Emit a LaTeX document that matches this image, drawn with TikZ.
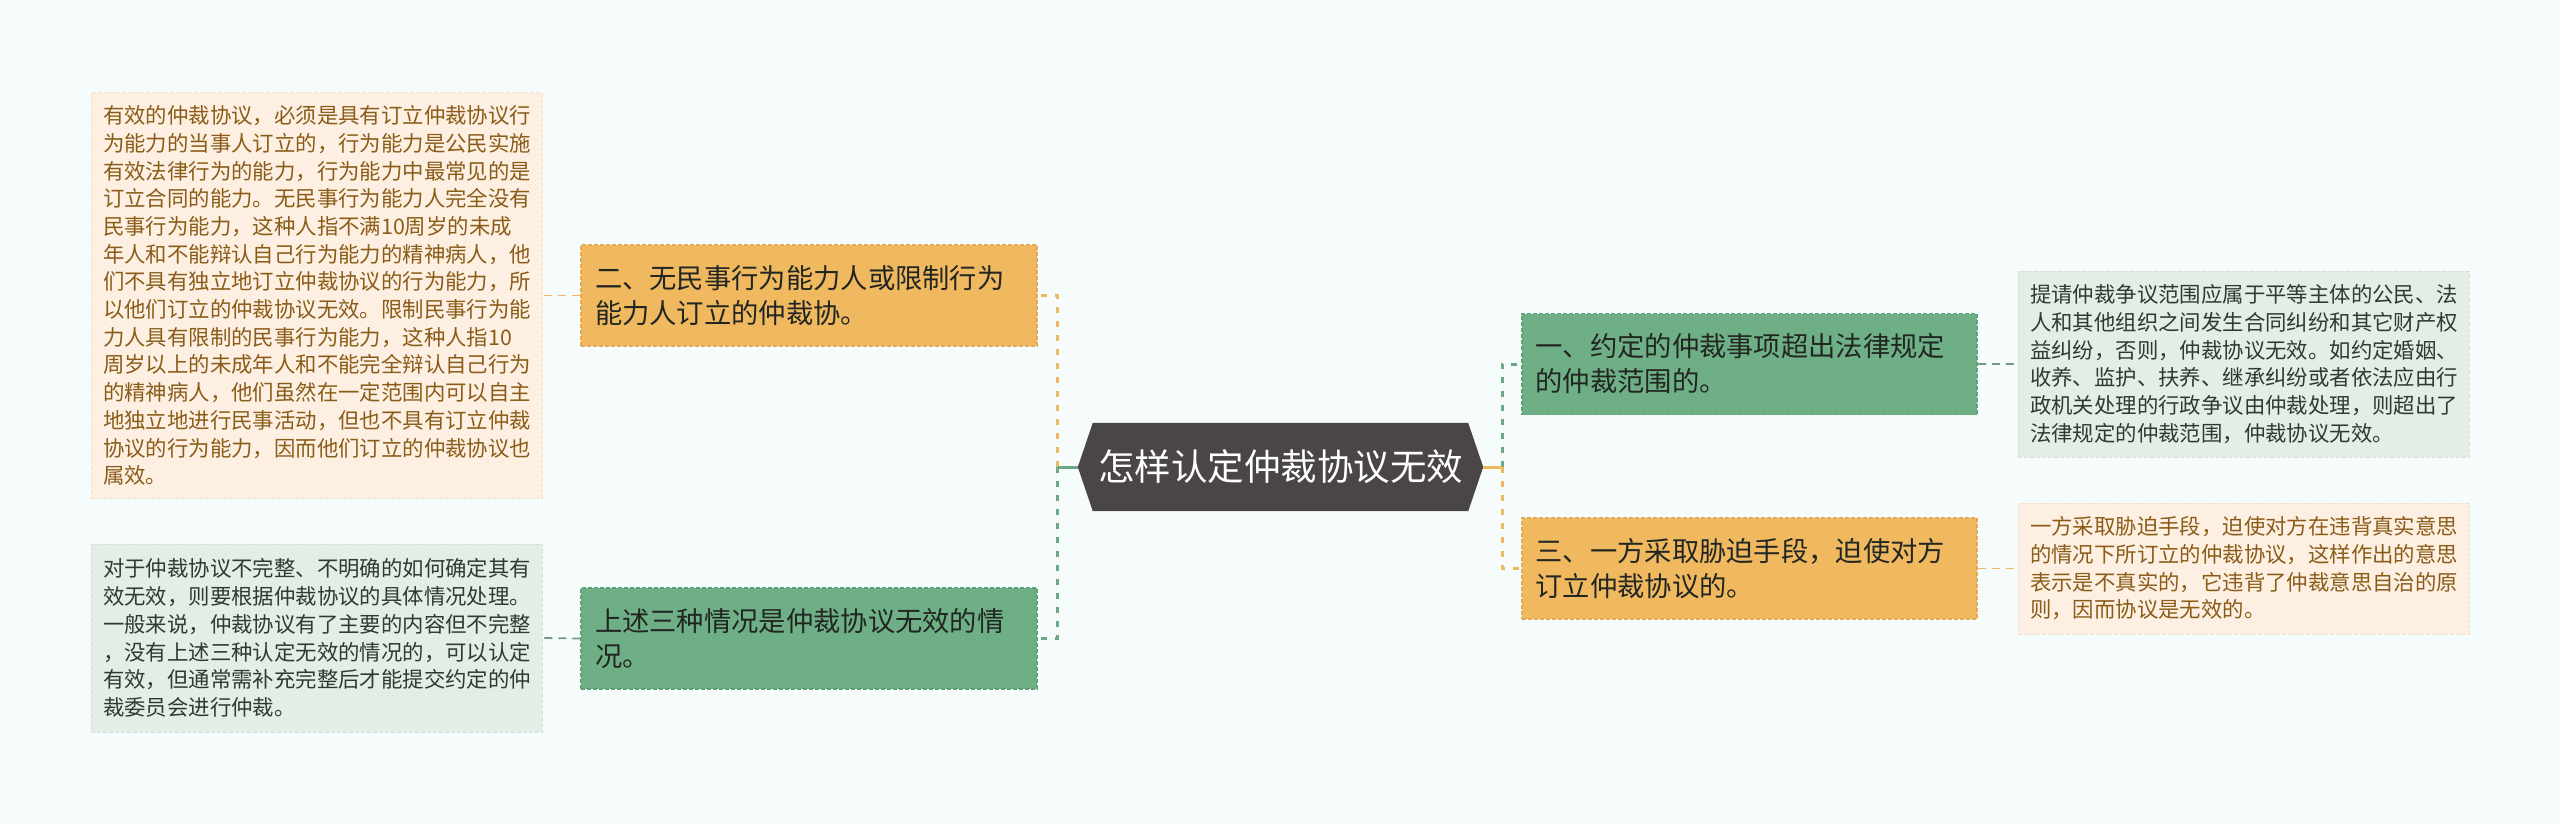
\documentclass[tikz,border=0pt]{standalone}
\usepackage{fontspec}
\setmainfont{Noto Sans CJK SC}
\usetikzlibrary{calc}
\definecolor{bgc}{HTML}{F6FCFC}
\definecolor{orfill}{HTML}{F0B95F}
\definecolor{ordraw}{HTML}{E2AA52}
\definecolor{grfill}{HTML}{6FAF86}
\definecolor{grdraw}{HTML}{62A279}
\definecolor{ctfill}{HTML}{4A4546}
\definecolor{ltor}{HTML}{FDF0E2}
\definecolor{ltordraw}{HTML}{F3E0CA}
\definecolor{ltgr}{HTML}{E4EEE7}
\definecolor{ltgrdraw}{HTML}{D2E0D6}
\definecolor{ortext}{HTML}{8A5C18}
\definecolor{grtext}{HTML}{2E3A32}
\definecolor{boxtext}{HTML}{222622}
\definecolor{orline}{HTML}{EDB85E}
\definecolor{grline}{HTML}{6BA883}
\begin{document}
\begin{tikzpicture}[x=1pt,y=-1pt,
  mainbox/.style={inner sep=0pt, minimum width=456pt, minimum height=101pt,
    text width=428pt, align=left, text=boxtext,
    font=\fontsize{27.3}{35}\selectfont, line width=1.5pt, dash pattern=on 4pt off 2pt},
  orbox/.style={mainbox, fill=orfill, draw=ordraw},
  grbox/.style={mainbox, fill=grfill, draw=grdraw},
  txtbox/.style={inner sep=0pt, minimum width=451pt, text width=427pt, align=left,
    font=\fontsize{21.4}{27.7}\selectfont, line width=1pt, dash pattern=on 4pt off 2pt},
  ortxt/.style={txtbox, fill=ltor, draw=ltordraw, text=ortext},
  grtxt/.style={txtbox, fill=ltgr, draw=ltgrdraw, text=grtext},
  trunk/.style={line width=3pt, dash pattern=on 6pt off 8pt},
  stub/.style={line width=3pt},
  leaf/.style={line width=1.8pt, dash pattern=on 8pt off 6pt}
]
\fill[bgc] (0,0) rectangle (2560,824);
\useasboundingbox (0,0) rectangle (2560,824);

% centre
\node[inner sep=0pt, minimum width=405pt, minimum height=88pt, text=white,
  font=\fontsize{36.5}{40}\selectfont] (c) at (1280.5,467) {怎样认定仲裁协议无效};
\fill[ctfill] (c.west) -- ($(c.north west)+(15,0)$) -- ($(c.north east)+(-15,0)$)
  -- (c.east) -- ($(c.south east)+(-15,0)$) -- ($(c.south west)+(15,0)$) -- cycle;
\node[inner sep=0pt, text=white, font=\fontsize{36.5}{40}\selectfont] at (c.center) {怎样认定仲裁协议无效};

% main boxes
\node[orbox] (b2) at (809,295.5) {二、无民事行为能力人或限制行为\\能力人订立的仲裁协。};
\node[grbox] (bs) at (809,638.5) {上述三种情况是仲裁协议无效的情\\况。};
\node[grbox, minimum width=455pt] (b1) at (1749.5,364) {一、约定的仲裁事项超出法律规定\\的仲裁范围的。};
\node[orbox, minimum width=455pt] (b3) at (1749.5,568.5) {三、一方采取胁迫手段，迫使对方\\订立仲裁协议的。};

% text boxes
\node[ortxt, minimum height=405pt] (lt) at (316.5,295.5) {有效的仲裁协议，必须是具有订立仲裁协议行\\
为能力的当事人订立的，行为能力是公民实施\\
有效法律行为的能力，行为能力中最常见的是\\
订立合同的能力。无民事行为能力人完全没有\\
民事行为能力，这种人指不满10周岁的未成\\
年人和不能辩认自己行为能力的精神病人，他\\
们不具有独立地订立仲裁协议的行为能力，所\\
以他们订立的仲裁协议无效。限制民事行为能\\
力人具有限制的民事行为能力，这种人指10\\
周岁以上的未成年人和不能完全辩认自己行为\\
的精神病人，他们虽然在一定范围内可以自主\\
地独立地进行民事活动，但也不具有订立仲裁\\
协议的行为能力，因而他们订立的仲裁协议也\\
属效。};
\node[grtxt, minimum height=188pt] (lb) at (316.5,638) {对于仲裁协议不完整、不明确的如何确定其有\\
效无效，则要根据仲裁协议的具体情况处理。\\
一般来说，仲裁协议有了主要的内容但不完整\\
，没有上述三种认定无效的情况的，可以认定\\
有效，但通常需补充完整后才能提交约定的仲\\
裁委员会进行仲裁。};
\node[grtxt, minimum height=186pt] (rt) at (2243.5,364) {提请仲裁争议范围应属于平等主体的公民、法\\
人和其他组织之间发生合同纠纷和其它财产权\\
益纠纷，否则，仲裁协议无效。如约定婚姻、\\
收养、监护、扶养、继承纠纷或者依法应由行\\
政机关处理的行政争议由仲裁处理，则超出了\\
法律规定的仲裁范围，仲裁协议无效。};
\node[ortxt, minimum height=131pt] (rb) at (2243.5,568.5) {一方采取胁迫手段，迫使对方在违背真实意思\\
的情况下所订立的仲裁协议，这样作出的意思\\
表示是不真实的，它违背了仲裁意思自治的原\\
则，因而协议是无效的。};

% trunks
\coordinate (jl) at ($(c.west)+(-20,0)$);
\coordinate (jr) at ($(c.east)+(19,0)$);
\draw[trunk, orline] (jl) |- (b2.east);
\draw[trunk, grline] (jl) |- (bs.east);
\draw[stub, grline] (c.west) -- (jl);
\draw[trunk, grline] (jr) |- (b1.west);
\draw[trunk, orline] (jr) |- (b3.west);
\draw[stub, orline] (c.east) -- (jr);

% leaves
\draw[leaf, orline] (b2.west) -- (lt.east);
\draw[leaf, grline!70!gray] (bs.west) -- (lb.east);
\draw[leaf, grline!70!gray] (b1.east) -- (rt.west);
\draw[leaf, orline] (b3.east) -- (rb.west);
\end{tikzpicture}
\end{document}
